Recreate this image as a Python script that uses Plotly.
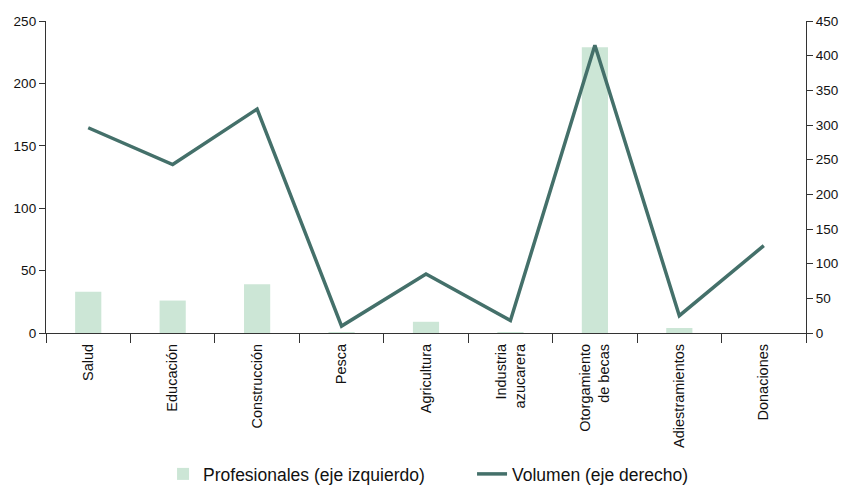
import plotly.graph_objects as go

# Sectores y valores
categorias = ["Salud", "Educación", "Construcción", "Pesca", "Agricultura",
              "Industria<br>azucarera", "Otorgamiento<br>de becas",
              "Adiestramientos", "Donaciones"]
profesionales = [33, 26, 39, 0.5, 9, 0.5, 229, 4, 0]
volumen = [296, 243, 323, 10, 85, 18, 415, 25, 126]

izq_ticks = [0, 50, 100, 150, 200, 250]
der_ticks = [0, 50, 100, 150, 200, 250, 300, 350, 400, 450]

fig = go.Figure()
fig.add_trace(go.Bar(
    x=categorias, y=profesionales, name="Profesionales (eje izquierdo)",
    marker=dict(color="#cce6d6", line=dict(width=0)), width=0.31,
    yaxis="y",
))
fig.add_trace(go.Scatter(
    x=categorias, y=volumen, name="Volumen (eje derecho)", mode="lines",
    line=dict(color="#44706a", width=3.5), yaxis="y2",
))

font_fam = "Liberation Sans, Arial, sans-serif"
txt = "#111"
fig.update_layout(
    width=843, height=485,
    margin=dict(l=46, r=37, t=21, b=152, autoexpand=False),
    paper_bgcolor="white", plot_bgcolor="white",
    font=dict(family=font_fam, size=13, color=txt),
    showlegend=True,
    legend=dict(orientation="h", x=0.154, xanchor="left", y=-0.452,
                yanchor="middle", font=dict(size=17.5, color=txt),
                entrywidth=264, itemwidth=30),
    xaxis=dict(
        type="category", showline=True, linecolor="#333", linewidth=1.3,
        ticks="outside", tickson="boundaries", ticklen=9, tickcolor="#333",
        tickwidth=1.3, tickangle=-90, showgrid=False, automargin=False,
        ticklabelstandoff=4, tickfont=dict(size=14.5, color=txt),
    ),
    yaxis=dict(
        range=[0, 250], tickvals=izq_ticks, showline=True, linecolor="#333",
        linewidth=1.3, ticks="outside", ticklen=6, tickcolor="#333",
        showgrid=False, zeroline=False, automargin=False,
        tickfont=dict(size=13.5, color=txt),
    ),
    yaxis2=dict(
        range=[0, 450], tickvals=der_ticks, overlaying="y", side="right",
        showline=True, linecolor="#333", linewidth=1.3, ticks="outside",
        ticklen=6, tickcolor="#333", showgrid=False, zeroline=False,
        automargin=False, tickfont=dict(size=13.5, color=txt),
    ),
)

fig.write_html("out.html")
